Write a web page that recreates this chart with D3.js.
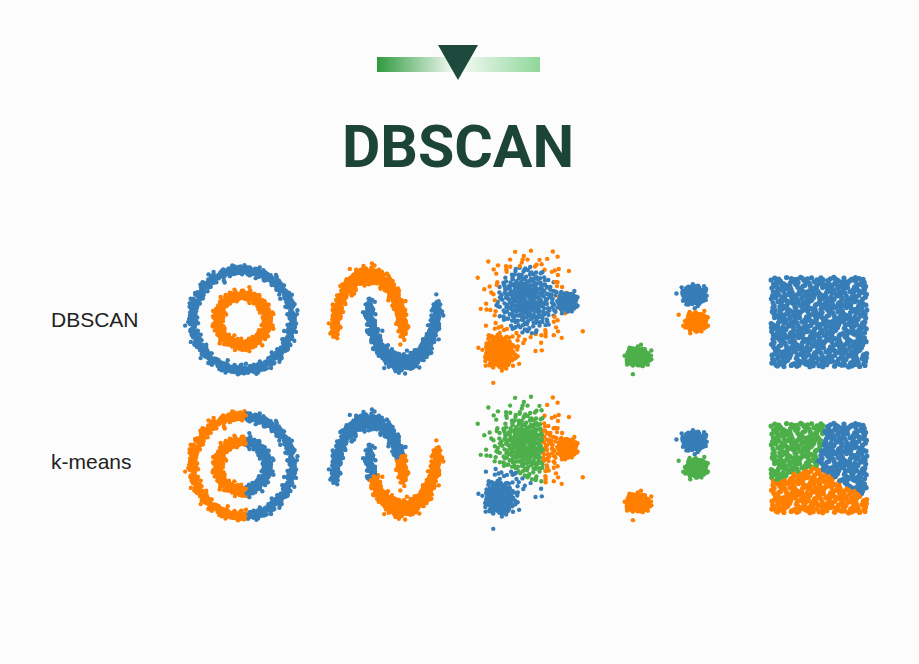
<!DOCTYPE html>
<html><head><meta charset="utf-8">
<script src="https://cdn.jsdelivr.net/npm/d3@7"></script>
<style>html,body{margin:0;padding:0;background:#fcfcfc;} svg{display:block}</style>
</head><body>
<svg id="chart" width="919" height="664"></svg>
<script>
// ================= DATA =================
const title = "DBSCAN";
const rowLabels = ["DBSCAN", "k-means"];
const palette = ["#377eb8", "#ff7f00", "#4daf4a"]; // blue, orange, green

// Panel 1 – concentric circles
const ringRadii = [1.0, 0.5];
const ringCounts = [750, 750];
const ringNoise = 0.05;
const ringDbscanColor = [0, 1];          // outer blue, inner orange
const ringKmeansSplit = 0.08;            // x < split -> orange, else blue

// Panel 2 – two moons
const moonCounts = [750, 750];
const moonNoise = 0.07;
const moonDbscanColor = [1, 0];          // upper orange, lower blue
const moonKmeansCentroids = [[0.3, 0.68], [0.7, -0.24]];
const moonKmeansColor = [0, 1];

// Panel 3 – blobs of varied spread
const variedCenters = [[0, 2.0], [4.0, 1.8], [-2.7, -3.2]];
const variedStd = [[1.75, 1.9], [0.4, 0.4], [0.66, 0.72]];
const variedCounts = [440, 260, 380];
const variedDbscanColor = [0, 0, 1];
const variedNoiseSigma = 1.8;            // big-cloud outliers shown orange
const variedKmeansCentroids = [[-0.6, 2.0], [3.8, 1.9], [-2.6, -3.0]];
const variedKmeansColor = [2, 1, 0];

// Panel 4 – three compact blobs
const blobCenters = [[2.9, 2.5], [3.1, -0.2], [-2.7, -3.7]];
const blobStd = [[0.5, 0.4], [0.45, 0.4], [0.5, 0.4]];
const blobCounts = [300, 300, 300];
const blobDbscanColor = [0, 1, 2];
const blobKmeansColor = [0, 2, 1];

// Panel 5 – uniform square
const squareCount = 680;
const squareKmeansCentroids = [[0.255, 0.75], [0.765, 0.64], [0.46, 0.21]];
const squareKmeansColor = [2, 0, 1];

// ================= LAYOUT =================
const W = 919, H = 664;
const rowCenters = [320, 466];
const labelY = [327, 469];
const dotR = 2.2;

const svg = d3.select("#chart");
svg.append("rect").attr("width", W).attr("height", H).attr("fill", "#fcfcfc");

// header ornament
const defs = svg.append("defs");
const grad = defs.append("linearGradient").attr("id", "barGrad").attr("x1", "0").attr("x2", "1");
[["0%", "#2e9a3f"], ["46%", "#eef8ef"], ["54%", "#eef8ef"], ["100%", "#8fd79a"]]
  .forEach(([o, c]) => grad.append("stop").attr("offset", o).attr("stop-color", c));
svg.append("rect").attr("x", 377).attr("y", 57).attr("width", 163).attr("height", 15).attr("fill", "url(#barGrad)");
svg.append("path").attr("d", "M438,45 L478,45 L458,80 Z").attr("fill", "#1d4a3c");

svg.append("text").attr("x", 458).attr("y", 167).attr("text-anchor", "middle")
  .attr("font-family", "Roboto, 'Liberation Sans', sans-serif").attr("font-weight", 700)
  .attr("font-size", 59).attr("fill", "#1c4537").text(title);

rowLabels.forEach((t, i) => {
  svg.append("text").attr("x", 51).attr("y", labelY[i])
    .attr("font-family", "'Liberation Sans', Arial, sans-serif").attr("font-size", 21)
    .attr("fill", "#222").text(t);
});

// ================= helpers =================
function halton(i, b) { let f = 1, r = 0; while (i > 0) { f /= b; r += f * (i % b); i = Math.floor(i / b); } return r; }
function gauss(i, b1, b2) {
  const u1 = halton(i + 1, b1), u2 = halton(i + 1, b2);
  const m = Math.sqrt(-2 * Math.log(u1));
  return [m * Math.cos(2 * Math.PI * u2), m * Math.sin(2 * Math.PI * u2), m];
}
function nearest(p, cents) {
  let best = 0, bd = Infinity;
  cents.forEach((c, k) => { const d = (p[0] - c[0]) ** 2 + (p[1] - c[1]) ** 2; if (d < bd) { bd = d; best = k; } });
  return best;
}

// ================= build point sets =================
// Panel 1
const ringPts = [];
ringRadii.forEach((r, k) => {
  for (let i = 0; i < ringCounts[k]; i++) {
    const idx = i + 1 + k * 3000;
    const th = 2 * Math.PI * halton(idx, 2);
    const g = gauss(idx, 3, 5);
    const x = r * Math.cos(th) + ringNoise * g[0], y = r * Math.sin(th) + ringNoise * g[1];
    ringPts.push({ x, y, db: ringDbscanColor[k], km: x < ringKmeansSplit ? 1 : 0 });
  }
});
// Panel 2
const moonPts = [];
[0, 1].forEach(k => {
  for (let i = 0; i < moonCounts[k]; i++) {
    const idx = i + 1 + k * 3000;
    const t = Math.PI * halton(idx, 2);
    const g = gauss(idx, 3, 5);
    let x, y;
    if (k === 0) { x = Math.cos(t); y = Math.sin(t); } else { x = 1 - Math.cos(t); y = 0.5 - Math.sin(t); }
    x += moonNoise * g[0]; y += moonNoise * g[1];
    moonPts.push({ x, y, db: moonDbscanColor[k], km: moonKmeansColor[nearest([x, y], moonKmeansCentroids)] });
  }
});
// Panel 3
const variedPts = [];
variedCenters.forEach((c, k) => {
  for (let i = 0; i < variedCounts[k]; i++) {
    const g = k === 0 ? gauss(i + 1, 5, 7) : gauss(i + 1 + k * 4000, 2, 3);
    const x = c[0] + variedStd[k][0] * g[0], y = c[1] + variedStd[k][1] * g[1];
    let db = variedDbscanColor[k];
    if (k === 0 && g[2] > variedNoiseSigma) db = 1;
    variedPts.push({ x, y, db, km: variedKmeansColor[nearest([x, y], variedKmeansCentroids)] });
  }
});
// Panel 4
const blobPts = [];
blobCenters.forEach((c, k) => {
  for (let i = 0; i < blobCounts[k]; i++) {
    const g = gauss(i + 1 + k * 4000, 2, 3);
    blobPts.push({ x: c[0] + blobStd[k][0] * g[0], y: c[1] + blobStd[k][1] * g[1], db: blobDbscanColor[k], km: blobKmeansColor[k] });
  }
});
// Panel 5
const squarePts = [];
for (let i = 0; i < squareCount; i++) {
  const x = halton(i + 1, 2), y = halton(i + 1, 3);
  squarePts.push({ x, y, db: 0, km: squareKmeansColor[nearest([x, y], squareKmeansCentroids)] });
}

// ================= panels =================
const panels = [
  { pts: ringPts, xd: [-1, 1], xr: [192.5, 292.5], yd: [-1, 1], yo: [50, -50], r: dotR },
  { pts: moonPts, xd: [-1, 2], xr: [335, 437], yd: [-0.5, 1], yo: [43, -45], r: dotR },
  { pts: variedPts, xd: [-6, 6], xr: [467, 587], yd: [-6, 6], yo: [60, -60], r: dotR },
  { pts: blobPts, xd: [-6, 6], xr: [605, 725], yd: [-6, 6], yo: [60, -60], r: dotR },
  { pts: squarePts, xd: [0, 1], xr: [771, 867], yd: [0, 1], yo: [47, -43], r: 2.6 }
];

rowCenters.forEach((cy, row) => {
  panels.forEach(p => {
    const x = d3.scaleLinear().domain(p.xd).range(p.xr);
    const y = d3.scaleLinear().domain(p.yd).range([cy + p.yo[0], cy + p.yo[1]]);
    svg.append("g").selectAll("circle").data(p.pts).join("circle")
      .attr("cx", d => x(d.x)).attr("cy", d => y(d.y)).attr("r", p.r)
      .attr("fill", d => palette[row === 0 ? d.db : d.km]);
  });
});
</script>
</body></html>
